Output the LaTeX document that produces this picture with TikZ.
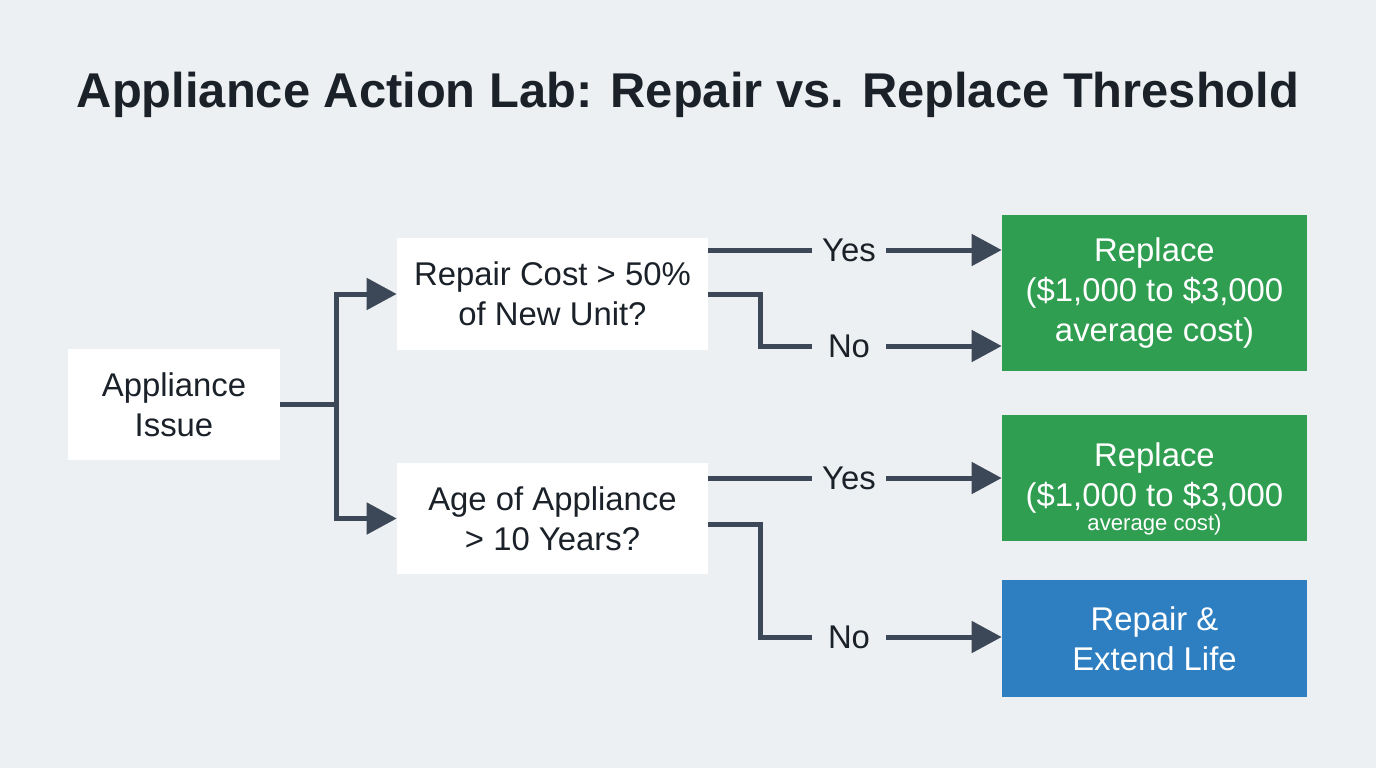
\documentclass[tikz,border=0pt]{standalone}
\usepackage{fontspec}
\setmainfont{Liberation Sans}
\usetikzlibrary{arrows.meta}
\definecolor{bg}{HTML}{ECF0F2}
\definecolor{ink}{HTML}{1B2129}
\definecolor{wire}{HTML}{3C4858}
\definecolor{okgreen}{HTML}{2F9E50}
\definecolor{fixblue}{HTML}{2E7FC1}
\tikzset{
  box/.style={rectangle, fill=white, align=center, text=ink, inner sep=0pt,
    font=\fontsize{18.7}{22.7}\selectfont},
  endbox/.style={box, text=white},
  tag/.style={inner sep=0pt, minimum width=1.48cm, text=ink,
    font=\fontsize{18.7}{22.7}\selectfont},
  wire/.style={draw=wire, line width=0.1cm},
  arr/.style={wire, -{Triangle[length=0.6cm, width=0.62cm]}}
}
\begin{document}
\begin{tikzpicture}[x=0.02cm, y=-0.02cm]
\useasboundingbox (0,0) rectangle (1376,768);
\fill[bg] (0,0) rectangle (1376,768);
\node[anchor=base, text=ink, font=\fontsize{27.8}{33}\selectfont\bfseries] (title) at (688,107) {Appliance Action Lab: Repair vs. Replace Threshold};
% boxes
\node[box, minimum width=4.24cm, minimum height=2.22cm] (a) at (174,404.5) {Appliance\\Issue};
\node[box, minimum width=6.22cm, minimum height=2.24cm] (q1) at (552.5,294) {Repair Cost > 50\%\\of New Unit?};
\node[box, minimum width=6.22cm, minimum height=2.22cm] (q2) at (552.5,518.5) {Age of Appliance\\> 10 Years?};
\node[endbox, fill=okgreen, minimum width=6.1cm, minimum height=3.12cm] (r1) at (1154.5,293) {Replace\\(\$1,000 to \$3,000\\average cost)};
\node[endbox, fill=okgreen, minimum width=6.1cm, minimum height=2.52cm] (r2) at (1154.5,478) {\rule{0pt}{26pt}Replace\\(\$1,000 to \$3,000\\[-8.7pt]{\fontsize{12.6}{14}\selectfont average cost)}};
\node[endbox, fill=fixblue, minimum width=6.1cm, minimum height=2.34cm] (r3) at (1154.5,638.5) {Repair \&\\Extend Life};
% labels
\node[tag] (y1) at (849,250) {Yes};
\node[tag] (n1) at (849,346) {No};
\node[tag] (y2) at (849,478) {Yes};
\node[tag] (n2) at (849,637) {No};
% connectors
\coordinate (s) at (336,404.5);
\coordinate (b1) at (760,294);
\coordinate (b2) at (760,524);
\draw[wire] (a.east) -- (s);
\draw[arr] (s) |- (q1.west);
\draw[arr] (s) |- (q2.west);
\draw[wire] (q1.east |- y1) -- (y1.west);
\draw[arr] (y1.east) -- (r1.west |- y1);
\draw[wire] (q1.east) -- (b1) |- (n1.west);
\draw[arr] (n1.east) -- (r1.west |- n1);
\draw[wire] (q2.east |- y2) -- (y2.west);
\draw[arr] (y2.east) -- (r2.west);
\draw[wire] (q2.east |- b2) -- (b2) |- (n2.west);
\draw[arr] (n2.east) -- (r3.west |- n2);
\end{tikzpicture}
\end{document}
